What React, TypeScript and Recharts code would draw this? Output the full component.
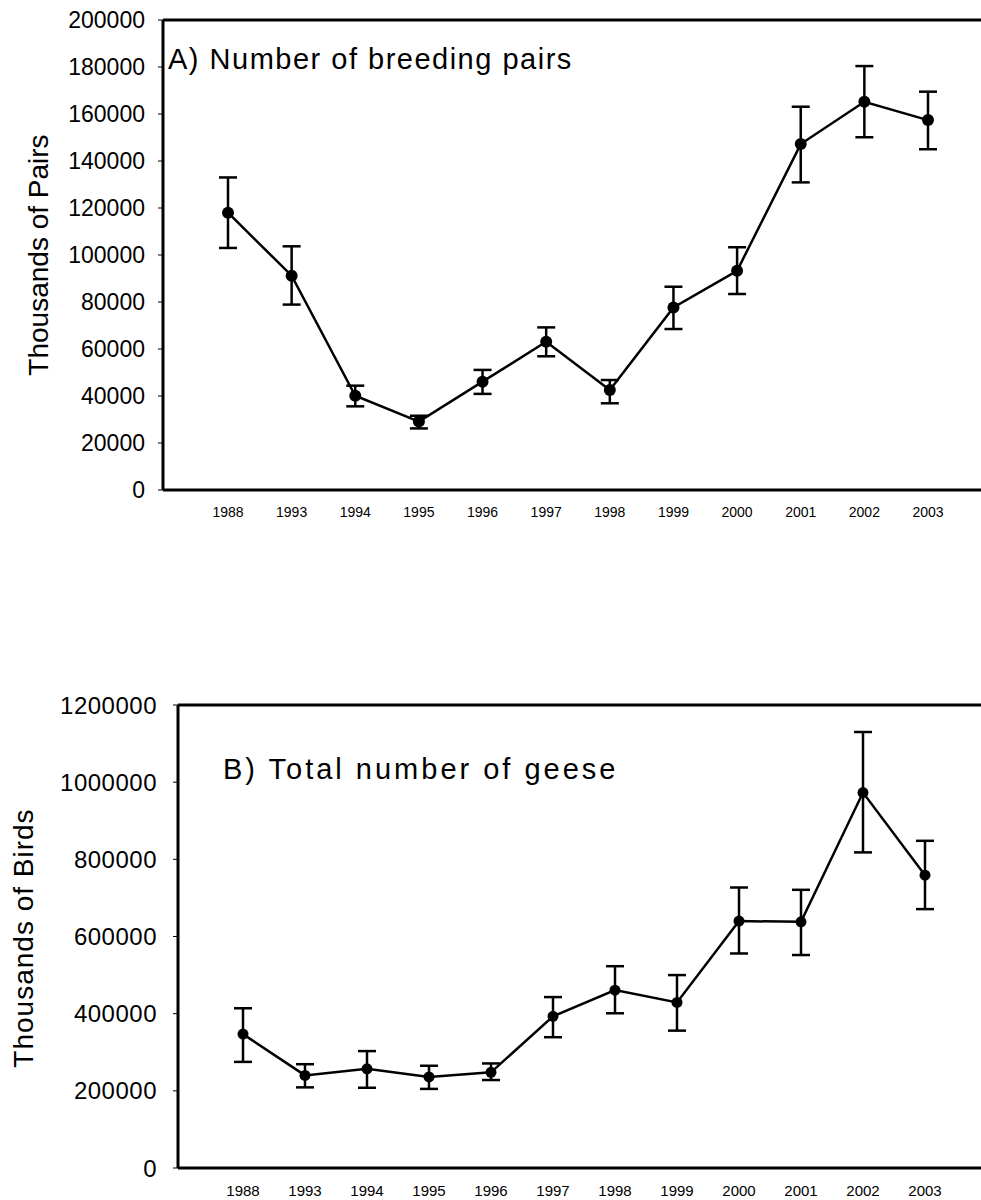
import React from "react";
import {
  LineChart,
  Line,
  XAxis,
  YAxis,
  ErrorBar,
  ReferenceLine,
  Label,
} from "recharts";

const years = ["1988", "1993", "1994", "1995", "1996", "1997", "1998", "1999", "2000", "2001", "2002", "2003"];

// A) breeding pairs (thousands)
const pairsMean = [118000, 91200, 40100, 29100, 46100, 63100, 42600, 77700, 93300, 147200, 165200, 157400];
const pairsUpper = [133000, 103700, 44400, 31600, 51100, 69200, 46800, 86500, 103300, 163100, 180400, 169500];
const pairsLower = [103000, 78900, 35600, 26200, 40900, 56900, 36900, 68500, 83400, 130900, 150100, 145000];
const pairsTicks = [0, 20000, 40000, 60000, 80000, 100000, 120000, 140000, 160000, 180000, 200000];

// B) total geese (thousands)
const geeseMean = [347000, 240000, 257000, 236000, 248000, 393000, 461000, 429000, 640000, 638000, 973000, 759000];
const geeseUpper = [414000, 269000, 303000, 265000, 271000, 443000, 523000, 500000, 727000, 721000, 1130000, 848000];
const geeseLower = [275000, 209000, 208000, 205000, 228000, 339000, 401000, 356000, 556000, 552000, 818000, 671000];
const geeseTicks = [0, 200000, 400000, 600000, 800000, 1000000, 1200000];

const FONT = '"Liberation Sans", Arial, sans-serif';

const buildRows = (mean: number[], lower: number[], upper: number[]) =>
  years.map((year, i) => ({
    year,
    value: mean[i],
    err: [mean[i] - lower[i], upper[i] - mean[i]],
  }));

const pairsData = buildRows(pairsMean, pairsLower, pairsUpper);
const geeseData = buildRows(geeseMean, geeseLower, geeseUpper);

const App = () => {
  return (
    <div style={{ position: "absolute", left: 0, top: 0, width: 981, height: 1200, background: "#fff", fontFamily: FONT }}>
      <LineChart
        width={981}
        height={530}
        data={pairsData}
        margin={{ top: 20, right: 0, bottom: 0, left: 0 }}
      >
        <XAxis
          dataKey="year"
          padding={{ left: 65, right: 53 }}
          height={40}
          axisLine={{ stroke: "#000", strokeWidth: 3 }}
          tickLine={false}
          tickSize={0}
          tickMargin={17}
          interval={0}
          tick={{ fill: "#000", fontSize: 14, fontFamily: FONT }}
        >
          <Label
            content={() => (
              <text x={168} y={69} fontSize={29} letterSpacing={1.5} fill="#000" fontFamily={FONT}>
                A) Number of breeding pairs
              </text>
            )}
          />
        </XAxis>
        <YAxis
          width={163}
          domain={[0, 200000]}
          ticks={pairsTicks}
          interval={0}
          axisLine={{ stroke: "#000", strokeWidth: 3 }}
          tickLine={{ stroke: "#000", strokeWidth: 1 }}
          tickSize={5}
          tickMargin={13}
          tick={{ fill: "#000", fontSize: 23, fontFamily: FONT }}
        >
          <Label
            content={() => (
              <text
                x={48}
                y={255}
                transform="rotate(-90 48 255)"
                textAnchor="middle"
                fontSize={28}
                fill="#000"
                fontFamily={FONT}
              >
                Thousands of Pairs
              </text>
            )}
          />
        </YAxis>
        <ReferenceLine y={200000} stroke="#000" strokeWidth={3} />
        <Line
          type="linear"
          dataKey="value"
          stroke="#000"
          strokeWidth={2.5}
          dot={{ r: 6, fill: "#000", stroke: "#000", strokeWidth: 0 }}
          activeDot={false}
          isAnimationActive={false}
        >
          <ErrorBar dataKey="err" direction="y" width={9} stroke="#000" strokeWidth={2.5} isAnimationActive={false} />
        </Line>
      </LineChart>

      <LineChart
        width={981}
        height={670}
        data={geeseData}
        margin={{ top: 175, right: 0, bottom: 0, left: 0 }}
      >
        <XAxis
          dataKey="year"
          padding={{ left: 65, right: 56 }}
          height={32}
          axisLine={{ stroke: "#000", strokeWidth: 3 }}
          tickLine={false}
          tickSize={0}
          tickMargin={17}
          interval={0}
          tick={{ fill: "#000", fontSize: 15, fontFamily: FONT }}
        >
          <Label
            content={() => (
              <text x={223} y={249} fontSize={29} letterSpacing={3} fill="#000" fontFamily={FONT}>
                B) Total number of geese
              </text>
            )}
          />
        </XAxis>
        <YAxis
          width={178}
          domain={[0, 1200000]}
          ticks={geeseTicks}
          interval={0}
          axisLine={{ stroke: "#000", strokeWidth: 3 }}
          tickLine={{ stroke: "#000", strokeWidth: 1 }}
          tickSize={5}
          tickMargin={16}
          tick={{ fill: "#000", fontSize: 24, letterSpacing: 0.5, fontFamily: FONT }}
        >
          <Label
            content={() => (
              <text
                x={33}
                y={408}
                transform="rotate(-90 33 408)"
                textAnchor="middle"
                fontSize={28}
                letterSpacing={1}
                fill="#000"
                fontFamily={FONT}
              >
                Thousands of Birds
              </text>
            )}
          />
        </YAxis>
        <ReferenceLine y={1200000} stroke="#000" strokeWidth={3} />
        <Line
          type="linear"
          dataKey="value"
          stroke="#000"
          strokeWidth={2.5}
          dot={{ r: 5.5, fill: "#000", stroke: "#000", strokeWidth: 0 }}
          activeDot={false}
          isAnimationActive={false}
        >
          <ErrorBar dataKey="err" direction="y" width={9} stroke="#000" strokeWidth={2.5} isAnimationActive={false} />
        </Line>
      </LineChart>
    </div>
  );
};

export default App;
